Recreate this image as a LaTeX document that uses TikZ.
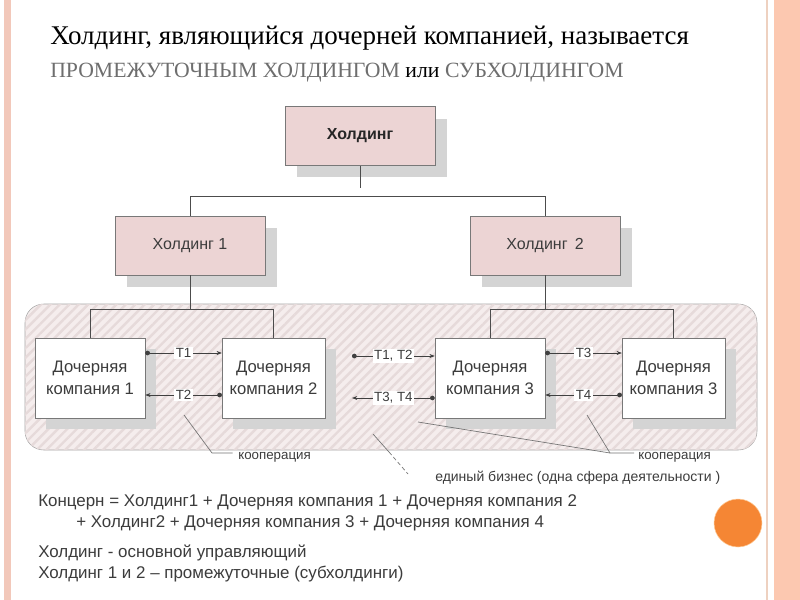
\documentclass[tikz,border=0pt]{standalone}
\usepackage{fontspec}
\setmainfont{Liberation Serif}
\setsansfont{Liberation Sans}
\usetikzlibrary{arrows.meta,shadows,patterns.meta}
\definecolor{holdpink}{RGB}{236,212,212}
\definecolor{boxgray}{RGB}{120,120,120}
\definecolor{shadowgray}{RGB}{212,212,212}
\definecolor{zonepink}{RGB}{245,237,237}
\definecolor{zonestripe}{RGB}{230,218,218}
\definecolor{textgray}{RGB}{60,60,60}
\definecolor{capgray}{RGB}{110,110,110}
\definecolor{edgepink}{RGB}{242,200,186}
\definecolor{edgesalmon}{RGB}{252,200,176}
\definecolor{dotorange}{RGB}{245,134,52}

\begin{document}
\begin{tikzpicture}[x=0.75pt,y=-0.75pt,
  holdbox/.style={draw=boxgray, fill=holdpink, font=\sffamily\fontsize{12}{14}\selectfont,
    text=textgray, minimum width=112.5pt, minimum height=44pt,
    drop shadow={shadow xshift=9pt, shadow yshift=-9pt, fill=shadowgray, opacity=1}},
  compbox/.style={draw=boxgray, fill=white, align=center, text=textgray,
    font=\sffamily\fontsize{12.5}{16}\selectfont, minimum height=60pt,
    drop shadow={shadow xshift=8pt, shadow yshift=-8pt, fill=shadowgray, opacity=1}},
  tree/.style={draw=black!70, line width=0.6pt},
  flow/.style={draw=black!75, line width=0.5pt, {Circle[length=3.5pt]}-{Stealth[length=4pt,width=3pt]}},
  tlabel/.style={fill=white, inner sep=1pt, text=textgray, font=\sffamily\fontsize{10}{12}\selectfont},
  leader/.style={draw=black!55, line width=0.5pt},
  note/.style={anchor=west, inner sep=0pt, text=textgray, font=\sffamily\fontsize{10}{12}\selectfont},
  sumtext/.style={anchor=west, inner sep=0pt, text=textgray, font=\sffamily\fontsize{12.7}{15}\selectfont}]
\useasboundingbox (0,0) rectangle (800,600);
\fill[white] (0,0) rectangle (800,600);
% slide edges
\fill[edgepink] (4,0) rectangle (11,600);
\draw[edgepink!70!brown!60, line width=1.2pt] (767,0) -- (767,600);
\fill[edgesalmon] (774,0) rectangle (800,600);

% title
\node[anchor=west, inner sep=0pt, font=\fontsize{20.25}{24}\selectfont] (title) at (50,38)
  {Холдинг, являющийся дочерней компанией, называется};
\node[anchor=west, inner sep=0pt, font=\fontsize{16.3}{20}\selectfont] (subtitle) at (50,73)
  {\textcolor{capgray}{ПРОМЕЖУТОЧНЫМ ХОЛДИНГОМ} или \textcolor{capgray}{СУБХОЛДИНГОМ}};

% hatched zone
\draw[draw=black!35, fill=zonepink, rounded corners=14pt] (25,304) rectangle (757,450);
\fill[pattern={Lines[angle=45,distance=5pt,line width=1.8pt]}, pattern color=zonestripe,
  rounded corners=14pt] (25,304) rectangle (757,450);

% holdings
\node[holdbox, font=\sffamily\bfseries\fontsize{12}{14}\selectfont, text=black!85] (hold) at (360,136) {Холдинг};
\node[holdbox] (hold1) at (190,245.5) {Холдинг 1};
\node[holdbox] (hold2) at (545,245.5) {Холдинг\, 2};

% subsidiaries
\node[compbox, minimum width=82.5pt] (dc1) at (90,378) {Дочерняя\\компания 1};
\node[compbox, minimum width=77pt] (dc2) at (273.5,378) {Дочерняя\\компания 2};
\node[compbox, minimum width=82.5pt] (dc3) at (490,378) {Дочерняя\\компания 3};
\node[compbox, minimum width=77pt] (dc4) at (673.5,378) {Дочерняя\\компания 3};

% tree lines
\coordinate (bus) at (0,196);
\coordinate (busa) at (0,309);
\draw[tree] (hold.south) -- (hold.south |- 0,188);
\draw[tree] (hold1.north) -- (hold1.north |- bus) -- (hold2.north |- bus) -- (hold2.north);
\draw[tree] (hold1.south) -- (hold1.south |- busa);
\draw[tree] (dc1.north) -- (dc1.north |- busa) -- (dc2.north |- busa) -- (dc2.north);
\draw[tree] (hold2.south) -- (hold2.south |- busa);
\draw[tree] (dc3.north) -- (dc3.north |- busa) -- (dc4.north |- busa) -- (dc4.north);

% transfers
\draw[flow] ([yshift=18.75pt]dc1.east) -- ([yshift=18.75pt]dc2.west) node[tlabel, midway] {T1};
\draw[flow] ([yshift=-12.75pt]dc2.west) -- ([yshift=-12.75pt]dc1.east) node[tlabel, midway] {T2};
\draw[flow] ([yshift=18.75pt]dc3.east) -- ([yshift=18.75pt]dc4.west) node[tlabel, midway] {T3};
\draw[flow] ([yshift=-12.75pt]dc4.west) -- ([yshift=-12.75pt]dc3.east) node[tlabel, midway] {T4};
\coordinate (tin) at (352,356);
\coordinate (tout) at (352,398);
\draw[flow] (tin) -- (dc3.west |- tin) node[tlabel, midway] {T1, T2};
\draw[flow] (dc3.west |- tout) -- (tout) node[tlabel, midway] {T3, T4};

% notes
\coordinate (coopA) at (184,415);
\coordinate (coopB) at (212,453);
\coordinate (coopC) at (587,415);
\coordinate (coopD) at (610,453);
\coordinate (coopE) at (418,422);
\coordinate (oneA) at (373,434);
\coordinate (oneB) at (389,452);
\coordinate (oneC) at (408,474);
\node[note] (coop1) at (238,457) {кооперация};
\node[note] (coop2) at (638,457) {кооперация};
\node[note, font=\sffamily\fontsize{10.5}{12}\selectfont] (onebiz) at (435,478) {единый бизнес (одна сфера деятельности )};
\draw[leader] (coopA) -- (coopB) -- ([xshift=-4pt]coop1.west |- coopB);
\draw[leader] (coopC) -- (coopD) -- ([xshift=-3pt]coop2.west |- coopD);
\draw[leader] (coopE) -- (coopD);
\draw[leader] (oneA) -- (oneB);
\draw[leader, densely dashed] (oneB) -- (oneC);

% summary
\node[sumtext] (sum1) at (38,502) {Концерн = Холдинг1 + Дочерняя компания 1 + Дочерняя компания 2};
\node[sumtext] (sum2) at (76,523) {+ Холдинг2 + Дочерняя компания 3 + Дочерняя компания 4};
\node[sumtext] (sum3) at (38,553) {Холдинг - основной управляющий};
\node[sumtext] (sum4) at (38,574) {Холдинг 1 и 2 – промежуточные (субхолдинги)};

\fill[dotorange, draw=orange!40] (738,523) circle (18pt);
\end{tikzpicture}
\end{document}
